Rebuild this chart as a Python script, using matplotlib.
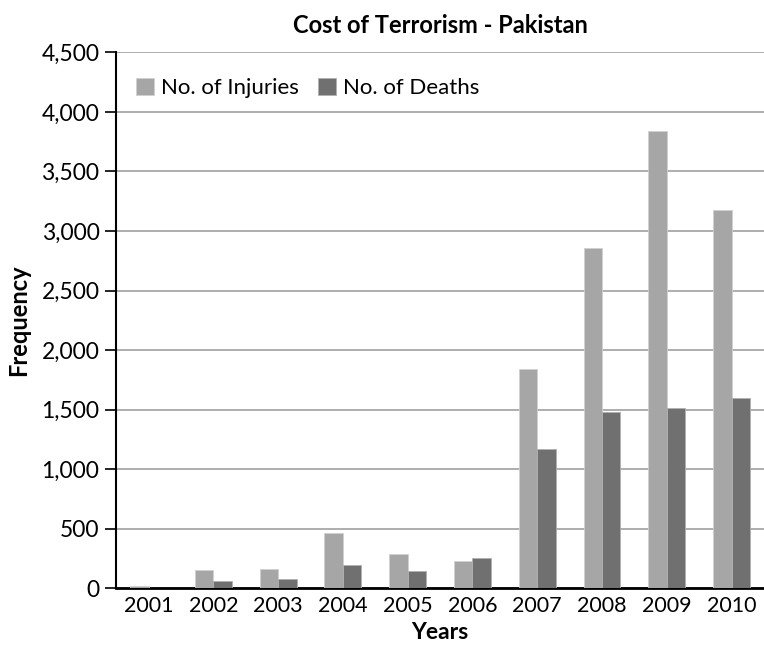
import numpy as np
import matplotlib.pyplot as plt

plt.rcParams['font.family'] = ['Lato', 'DejaVu Sans']

years = ["2001", "2002", "2003", "2004", "2005", "2006", "2007", "2008", "2009", "2010"]
injuries = [15, 150, 160, 466, 286, 230, 1843, 2857, 3844, 3179]
deaths = [0, 62, 79, 197, 140, 256, 1165, 1479, 1510, 1597]

fig = plt.figure(figsize=(7.64, 6.47), dpi=100)
ax = fig.add_axes([0.152, 0.091, 0.848, 0.828])

x = np.arange(len(years))
w = 0.285
ax.bar(x - w / 2, injuries, w, color="#a6a6a6", edgecolor="#d0d0d0", linewidth=0.6,
       label="No. of Injuries", zorder=3)
ax.bar(x + w / 2, deaths, w, color="#707070", edgecolor="#b0b0b0", linewidth=0.6,
       label="No. of Deaths", zorder=3)

ax.set_xlim(-0.5, len(years) - 0.5)
ax.set_ylim(0, 4500)
ax.set_yticks(np.arange(0, 4501, 500))
ax.set_yticklabels([f"{v:,}" for v in range(0, 4501, 500)])
ax.set_xticks(x)
ax.set_xticklabels(years)
ax.yaxis.grid(True, color="#a0a0a0", linewidth=1.2, zorder=0)
ax.set_axisbelow(True)

for s in ["top", "right"]:
    ax.spines[s].set_visible(False)
ax.spines["left"].set_linewidth(1.5)
ax.spines["bottom"].set_linewidth(2)
ax.tick_params(axis="y", length=8, width=1.2, labelsize=16.5, pad=4)
ax.tick_params(axis="x", length=0, labelsize=15.5, pad=6)

ax.set_title("Cost of Terrorism - Pakistan", fontsize=17, fontweight="bold", pad=14)
ax.set_xlabel("Years", fontsize=16.5, fontweight="bold", labelpad=4)
ax.set_ylabel("Frequency", fontsize=17, fontweight="bold", labelpad=8)

ax.legend(loc="upper left", bbox_to_anchor=(0.0, 0.99), ncol=2, frameon=False,
          fontsize=16, handlelength=0.8, handleheight=0.8, handletextpad=0.3,
          columnspacing=0.9)

fig.savefig("out.png", dpi=100)
